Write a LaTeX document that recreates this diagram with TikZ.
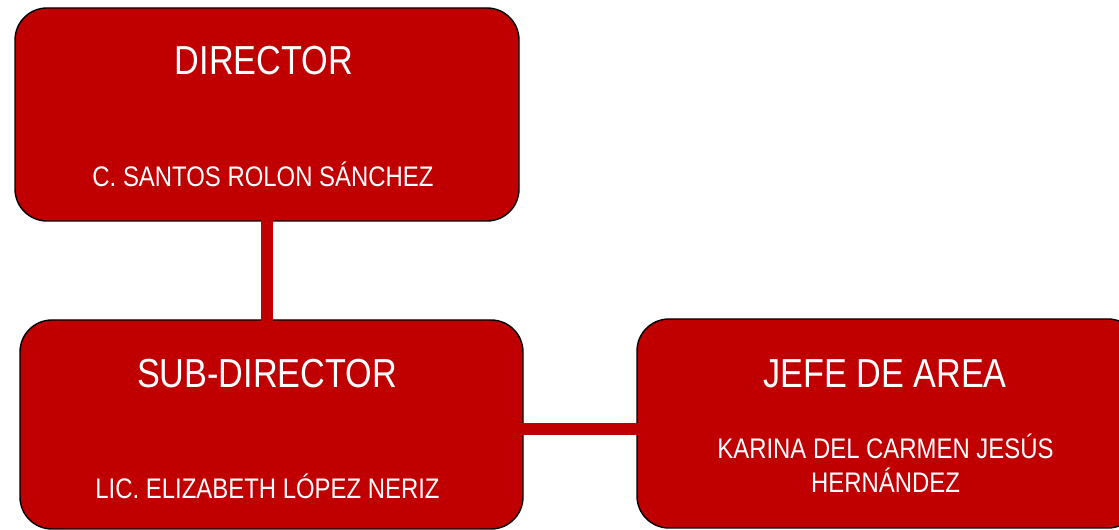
\documentclass[tikz,border=0pt]{standalone}
\usepackage{fontspec}
\setmainfont[FakeStretch=0.845]{Liberation Sans}
\usetikzlibrary{backgrounds}
\definecolor{boxred}{RGB}{192,0,0}
\tikzset{
  orgbox/.style={draw=black, line width=1.4pt, fill=boxred, rounded corners=32pt, inner sep=0pt},
  titletext/.style={text=white, anchor=base, inner sep=0pt, font=\fontsize{40.5}{48}\selectfont},
  nametext/.style={text=white, anchor=base, inner sep=0pt, font=\fontsize{28.3}{34}\selectfont},
  orglink/.style={draw=boxred, line width=12pt}
}
\begin{document}
\begin{tikzpicture}[x=1pt,y=1pt]
\clip (0,0) rectangle (1119,530);
\fill[white] (0,0) rectangle (1119,530);
\path[orgbox] (15,309) rectangle (519,522) node[pos=0.5] (dir) {};
\path[orgbox] (20,1) rectangle (523,210) node[pos=0.5] (sub) {};
\path[orgbox] (637,2) rectangle (1140,211) node[pos=0.5] (jefe) {};
\coordinate (dirbot) at (267,309);
\coordinate (subtop) at (267,210);
\coordinate (subright) at (523,101);
\coordinate (jefeleft) at (637,101);
\draw[orglink] ([yshift=0.7pt]dirbot) -- ([yshift=-0.7pt]subtop);
\draw[orglink] ([xshift=-0.7pt]subright) -- ([xshift=0.7pt]jefeleft);
\node[titletext] (t1) at (264,455) {DIRECTOR};
\node[nametext] (n1) at (263,343) {C. SANTOS ROLON SÁNCHEZ};
\node[titletext] (t2) at (267,142) {SUB-DIRECTOR};
\node[nametext] (n2) at (267.5,31) {LIC. ELIZABETH LÓPEZ NERIZ};
\node[titletext] (t3) at (885,142) {JEFE DE AREA};
\node[nametext] (n3a) at (885.5,71) {KARINA DEL CARMEN JESÚS};
\node[nametext] (n3b) at (885.5,37) {HERNÁNDEZ};
\end{tikzpicture}
\end{document}
